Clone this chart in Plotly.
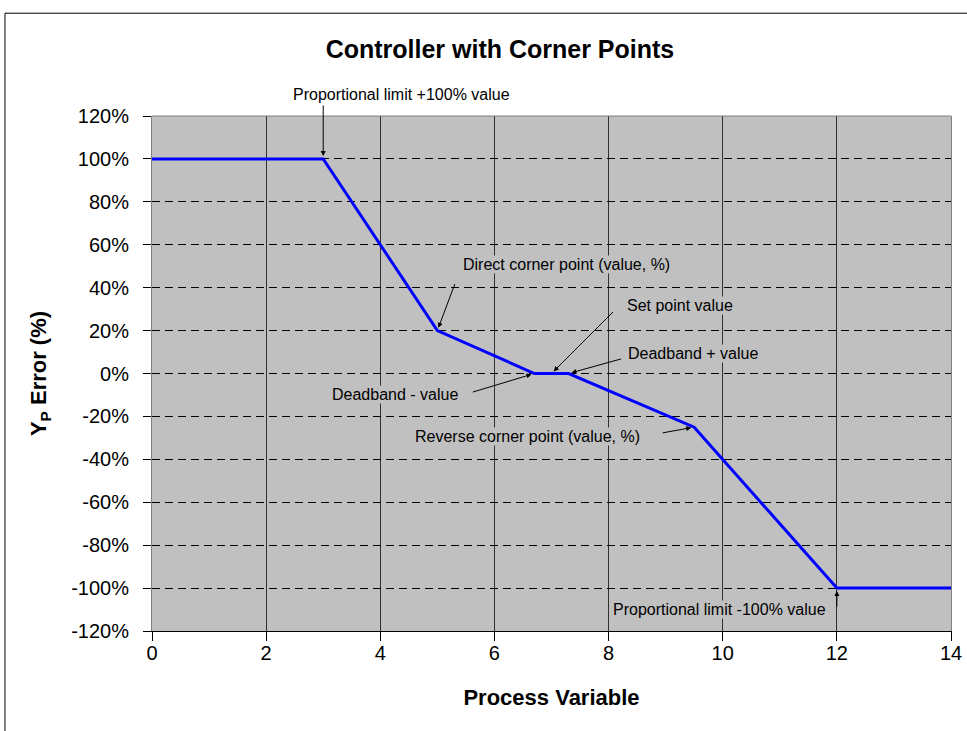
import plotly.graph_objects as go

# controller curve: process variable vs Yp error (%)
pv = [0, 3, 5, 6.7, 7.3, 9.5, 12, 14]
err = [100, 100, 20, 0, 0, -25, -100, -100]

x_ticks = [0, 2, 4, 6, 8, 10, 12, 14]
y_ticks = [-120, -100, -80, -60, -40, -20, 0, 20, 40, 60, 80, 100, 120]
y_tick_text = [f"{v}%" for v in y_ticks]

# callouts: label, point the arrow hits, arrow tail offset (px), label anchor (data units)
labels = [
    "Proportional limit +100% value",
    "Direct corner point (value, %)",
    "Set point value",
    "Deadband + value",
    "Deadband - value",
    "Reverse corner point (value, %)",
    "Proportional limit -100% value",
]
target_x = [3, 5, 7, 7.3, 6.7, 9.5, 12]
target_y = [100, 20, 0, 0, 0, -25, -100]
tail_dx = [0, 18, 63, 54, -63, -33, 0]
tail_dy = [-55, -48, -63, -15, 19, 6, 20]
label_x = [2.45, 5.43, 8.3, 8.32, 3.14, 4.59, 8.06]
label_y = [130.2, 50.7, 31.6, 9.3, -9.8, -29.3, -109.8]

Y_MIN, Y_MAX = -120, 120
X_MIN, X_MAX = 0, 14
font = "Liberation Sans, Arial"

fig = go.Figure()
fig.add_trace(go.Scatter(
    x=pv, y=err, mode="lines",
    line=dict(color="#0000FF", width=3),
    showlegend=False, hoverinfo="x+y",
))

for i, txt in enumerate(labels):
    inside = label_y[i] < Y_MAX
    fig.add_annotation(
        x=(label_x[i] - X_MIN) / (X_MAX - X_MIN),
        y=(label_y[i] - Y_MIN) / (Y_MAX - Y_MIN),
        xref="paper", yref="paper",
        text=txt, showarrow=False, xanchor="left", yanchor="middle",
        font=dict(family=font, size=16, color="black"),
        bgcolor="#C0C0C0" if inside else "rgba(0,0,0,0)",
        borderpad=0,
    )
    fig.add_annotation(
        x=target_x[i], y=target_y[i], xref="x", yref="y",
        text="", showarrow=True, ax=tail_dx[i], ay=tail_dy[i],
        arrowhead=2, arrowsize=1, arrowwidth=1, arrowcolor="black",
        standoff=3,
    )

# outer chart frame (cropped on the right and bottom like the source)
fig.add_shape(type="rect", xref="paper", yref="paper",
              x0=-0.184, x1=1.06, y0=-0.25, y1=1.1996,
              line=dict(color="black", width=1), layer="below")
# top edge of plot area
fig.add_shape(type="line", xref="paper", yref="paper",
              x0=0, x1=1, y0=1, y1=1,
              line=dict(color="#808080", width=1))

fig.update_layout(
    width=967, height=731,
    margin=dict(l=152, r=16, t=116, b=100),
    paper_bgcolor="white", plot_bgcolor="#C0C0C0",
    font=dict(family=font, color="black"),
    title=dict(text="<b>Controller with Corner Points</b>", x=0.517, xanchor="center",
               y=0.932, yanchor="middle", font=dict(family=font, size=25, color="black")),
    xaxis=dict(
        range=[X_MIN, X_MAX], tickvals=x_ticks, showgrid=True, gridcolor="#303030", gridwidth=1,
        zeroline=False, showline=True, linecolor="black", linewidth=1,
        ticks="outside", ticklen=9, tickcolor="black", ticklabelstandoff=-5,
        tickfont=dict(size=20, family=font), automargin=False,
        title=dict(text="<b>Process Variable</b>", font=dict(size=22, family=font), standoff=26),
    ),
    yaxis=dict(
        range=[Y_MIN, Y_MAX], tickvals=y_ticks, ticktext=y_tick_text,
        showgrid=True, gridcolor="black", gridwidth=1, griddash="8px,5px",
        zeroline=False, showline=True, linecolor="#808080", linewidth=1, mirror=True,
        ticks="outside", ticklen=8, tickcolor="black", ticklabelstandoff=10,
        tickfont=dict(size=20, family=font), automargin=False,
        title=dict(text="<b>Y<sub>P</sub> Error (%)</b>", font=dict(size=22, family=font), standoff=18),
    ),
)

# drop the page's default body margin so the figure sits at the window's corner
fig.write_html("out.html", config={"displayModeBar": False},
               post_script="document.body.style.margin='0';")
